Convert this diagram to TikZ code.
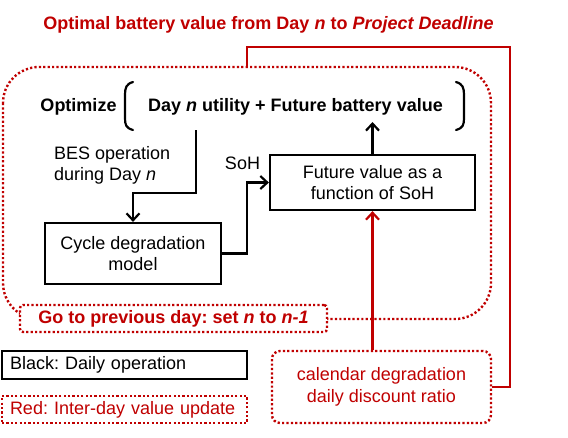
\documentclass[tikz,border=0pt]{standalone}
\usepackage{fontspec}
\setmainfont{Liberation Sans}
\usetikzlibrary{arrows.meta}
\definecolor{dred}{RGB}{192,0,0}
\frenchspacing
\begin{document}
\begin{tikzpicture}[x=1pt,y=-1pt,
  txt/.style={font=\fontsize{18}{21.5}\selectfont,align=center,inner sep=0pt},
  btxt/.style={font=\fontsize{18}{21.5}\selectfont\bfseries,align=center,inner sep=0pt},
  blkbox/.style={draw=black,line width=2.2pt,fill=white,align=center,font=\fontsize{18}{21.5}\selectfont,inner sep=0pt},
  reddot/.style={draw=dred,line width=2.4pt,dash pattern=on 2.2pt off 2.2pt},
  redline/.style={draw=dred,line width=2.4pt},
  arr/.style={-{Straight Barb[length=7pt,width=13pt,line width=2.2pt]},line width=2.2pt},
  paren/.style={line width=2.2pt,line cap=round}
]
\useasboundingbox (0,0) rectangle (568,437);

% title
\node[btxt,text=dred] (title) at (268.5,25) {Optimal battery value from Day \textit{n} to \textit{Project Deadline}};

% big dotted loop
\draw[reddot,rounded corners=36pt] (3,67) rectangle (491,319);

% optimize row
\node[btxt] (opt) at (78.5,107) {Optimize};
\node[btxt] (obj) at (295.5,107) {Day \textit{n} utility + Future battery value};
\draw[paren] (133,82) .. controls (126,84) and (125,88) .. (125,95) -- (125,118) .. controls (125,125) and (126,128) .. (133,130);
\draw[paren] (456,82) .. controls (463,84) and (464,88) .. (464,95) -- (464,118) .. controls (464,125) and (463,128) .. (456,130);

% boxes
\node[blkbox,minimum width=176pt,minimum height=61pt] (cyc) at (133,253.5) {Cycle degradation\\model};
\node[blkbox,minimum width=205pt,minimum height=55pt] (fut) at (372.5,182.5) {Future value as a\\function of SoH};

\node[txt,align=left,anchor=west] (bes) at (54,165.5) {BES operation\\during Day \textit{n}};
\node[txt] (soh) at (242.5,163) {SoH};

\coordinate (besstart) at (196,130);
\coordinate (futtarget) at (372.5,122);
\draw[arr] (besstart) |- (133,193) -- (cyc.north);
\draw[arr] (cyc.east) -- (247,253.5) |- (fut.west);
\draw[arr] (fut.north) -- (futtarget);

% calendar box
\node[reddot,fill=white,rounded corners=8pt,minimum width=219pt,minimum height=72pt,txt,text=dred] (cal) at (381.5,387) {calendar degradation\\daily discount ratio};
\draw[arr,draw=dred,line width=2.4pt] (fut.south |- cal.north) -- (fut.south);

% red feedback line
\coordinate (topjoin) at (247,67);
\draw[redline] (cal.east) -| (510,47) -| (topjoin);

% go box
\node[reddot,fill=white,rounded corners=3pt,minimum width=307pt,minimum height=27pt,btxt,text=dred] (go) at (173.5,318.5) {Go to previous day: set \textit{n} to \textit{n-1}};

% legend
\node[blkbox,minimum width=245pt,minimum height=28pt,text width=229pt,align=left,inner xsep=8pt] (lb) at (124.5,365) {Black: Daily operation};
\node[reddot,fill=white,minimum width=245pt,minimum height=27pt,text width=229pt,align=left,inner xsep=8pt,inner ysep=0pt,font=\fontsize{18}{21.5}\selectfont,text=dred] (lr) at (124.5,409.5) {Red: Inter-day value update};
\end{tikzpicture}
\end{document}
